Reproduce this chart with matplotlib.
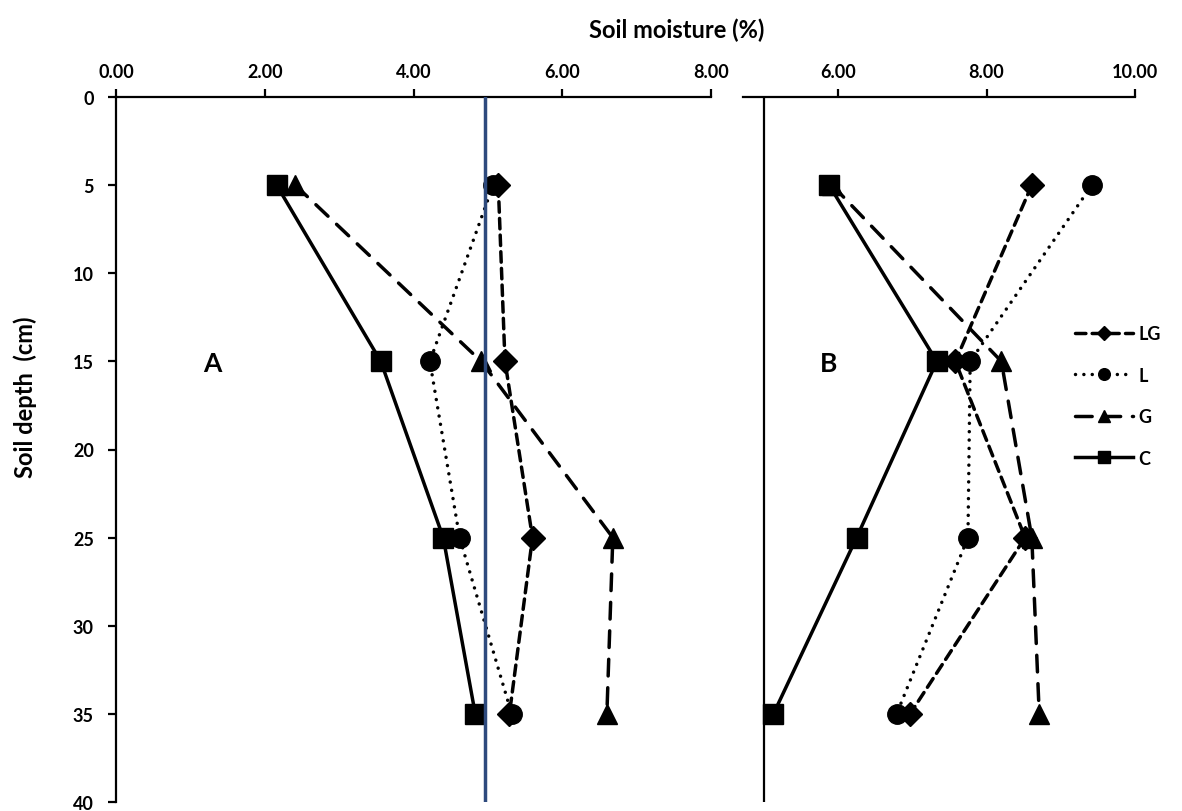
import numpy as np
import matplotlib
matplotlib.use('Agg')
import matplotlib.pyplot as plt

plt.rcParams['font.family'] = ['Lato', 'DejaVu Sans']
plt.rcParams['font.weight'] = 'bold'

# soil depth (cm)
depth = [5, 15, 25, 35]

# panel A soil moisture (%)
a_lg = [5.14, 5.23, 5.60, 5.29]
a_l = [5.07, 4.22, 4.62, 5.32]
a_g = [2.41, 4.91, 6.68, 6.60]
a_c = [2.16, 3.56, 4.40, 4.83]
a_ref = 4.96

# panel B soil moisture (%)
b_lg = [8.61, 7.58, 8.52, 6.97]
b_l = [9.42, 7.78, 7.75, 6.79]
b_g = [5.92, 8.20, 8.61, 8.71]
b_c = [5.88, 7.33, 6.25, 5.13]
b_ref = 5.00

names = ['LG', 'L', 'G', 'C']
markers = ['D', 'o', '^', 's']
msizes = [12, 14, 14, 14]
dashes = [(3, 1.8), (0.01, 2.4), (4.8, 3.4), None]

W, H = 1182, 812
fig = plt.figure(figsize=(W / 100, H / 100), dpi=100)
top, bot = 98, 803
axA = fig.add_axes([116 / W, 1 - bot / H, (711 - 116) / W, (bot - top) / H])
axB = fig.add_axes([743 / W, 1 - bot / H, (1135 - 743) / W, (bot - top) / H])


def draw(ax, series):
    for i, vals in enumerate(series):
        kw = dict(color='black', lw=2.5, marker=markers[i], ms=msizes[i],
                  label=names[i], zorder=3 + i)
        if dashes[i] is None:
            ax.plot(vals, depth, ls='-', **kw)
        else:
            ax.plot(vals, depth, ls='--', dashes=dashes[i],
                    dash_capstyle='round', **kw)
    ax.set_ylim(40, 0)
    ax.xaxis.tick_top()
    for s in ['bottom', 'right']:
        ax.spines[s].set_visible(False)
    ax.spines['top'].set_linewidth(1.6)
    ax.spines['left'].set_linewidth(1.6)
    ax.tick_params(axis='x', direction='out', length=6, width=1.6,
                   labelsize=13, pad=6)
    ax.xaxis.set_major_formatter(matplotlib.ticker.FormatStrFormatter('%.2f'))


draw(axA, [a_lg, a_l, a_g, a_c])
axA.set_xlim(0, 8)
axA.set_xticks([0, 2, 4, 6, 8])
axA.set_yticks(np.arange(0, 41, 5))
axA.tick_params(axis='y', direction='out', length=6, width=1.6,
                labelsize=13, pad=10)
axA.axvline(a_ref, color='#2E4A7D', lw=2.5, zorder=10)
axA.text(1.29, 15.1, 'A', fontsize=19, fontweight='bold', ha='center', va='center')

draw(axB, [b_lg, b_l, b_g, b_c])
axB.set_xlim(4.72, 10)
axB.set_xticks([6, 8, 10])
axB.spines['left'].set_visible(False)
axB.set_yticks([])
axB.axvline(b_ref, color='black', lw=1.6, zorder=2)
axB.text(5.87, 15.1, 'B', fontsize=19, fontweight='bold', ha='center', va='center')

axB.legend(loc='upper left', bbox_to_anchor=(1075 / W, 1 - 326 / H),
           bbox_transform=fig.transFigure, frameon=False, fontsize=13,
           markerscale=0.6, handlelength=3.2, handletextpad=0.3,
           labelspacing=1.36, borderpad=0, borderaxespad=0)

fig.text(589 / W, 1 - 30 / H, 'Soil moisture (%)', fontsize=17,
         fontweight='bold', ha='left', va='center')
fig.text(25 / W, 1 - 397 / H, 'Soil depth  (cm)', fontsize=17,
         fontweight='bold', ha='center', va='center', rotation=90)

fig.savefig('out.png', dpi=100)
